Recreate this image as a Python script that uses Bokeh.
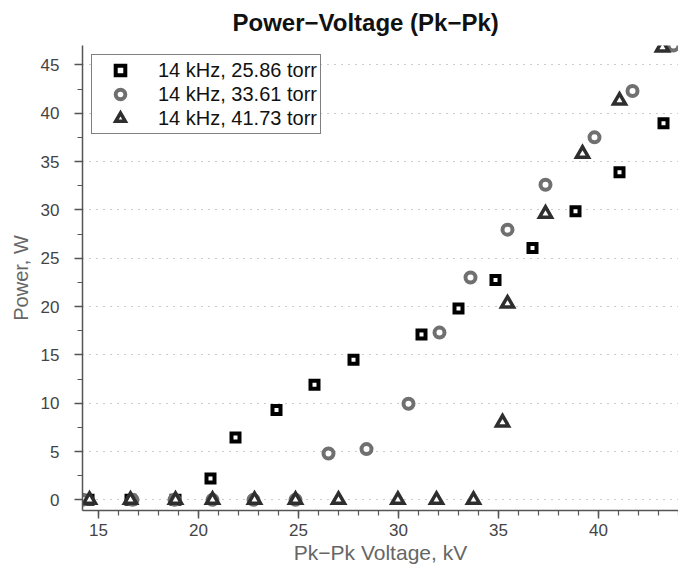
from bokeh.plotting import figure
from bokeh.models import SingleIntervalTicker, Range1d, Legend, LegendItem
from bokeh.embed import file_html
from bokeh.resources import INLINE

# Data (Pk-Pk voltage in kV, power in W)
sq_x = [14.5, 16.6, 18.85, 20.6, 21.85, 23.9, 25.8, 27.75, 31.15, 33.0, 34.85, 36.7, 38.85, 41.05, 43.25]
sq_y = [0.0, 0.0, 0.0, 2.2, 6.45, 9.3, 11.9, 14.5, 17.1, 19.8, 22.75, 26.05, 29.85, 33.9, 38.95]

ci_x = [14.2, 16.7, 18.8, 20.7, 22.75, 24.85, 26.5, 28.4, 30.5, 32.05, 33.6, 35.45, 37.35, 39.8, 41.7, 43.75]
ci_y = [0.0, 0.0, 0.0, 0.0, 0.0, 0.0, 4.8, 5.25, 9.95, 17.3, 23.0, 27.95, 32.6, 37.5, 42.3, 47.0]

tr_x = [14.55, 16.6, 18.85, 20.7, 22.8, 24.85, 27.0, 29.97, 31.9, 33.75, 35.2, 35.45, 37.35, 39.2, 41.05, 43.2]
tr_y = [0.0, 0.0, 0.0, 0.0, 0.0, 0.0, 0.0, 0.0, 0.0, 0.0, 8.0, 20.3, 29.6, 35.8, 41.3, 46.8]

labels = ["14 kHz, 25.86 torr", "14 kHz, 33.61 torr", "14 kHz, 41.73 torr"]

FONT = "Liberation Sans"

p = figure(width=678, height=573, output_backend="svg", toolbar_location=None,
           x_range=Range1d(14.2, 44.0), y_range=Range1d(-1.1, 47.0),
           title="Power\u2212Voltage (Pk\u2212Pk)")
p.min_border_left = 82
p.min_border_right = 0
p.min_border_top = 45
p.min_border_bottom = 63
p.outline_line_color = None
p.background_fill_color = "white"

p.title.align = "left"
p.title.offset = 150
p.title.standoff = 16
p.title.vertical_align = "top"
p.title.text_font = FONT
p.title.text_font_size = "24px"
p.title.text_font_style = "bold"
p.title.text_color = "#111111"

p.xaxis.ticker = SingleIntervalTicker(interval=5, num_minor_ticks=5)
p.yaxis.ticker = SingleIntervalTicker(interval=5, num_minor_ticks=2)
for ax in (p.xaxis, p.yaxis):
    ax.axis_line_color = "#555555"
    ax.axis_line_width = 1.5
    ax.major_tick_line_color = "#555555"
    ax.minor_tick_line_color = "#555555"
    ax.major_tick_line_width = 1.5
    ax.minor_tick_line_width = 1.2
    ax.major_tick_in = 0
    ax.major_tick_out = 8
    ax.minor_tick_in = 0
    ax.minor_tick_out = 5
    ax.major_label_text_font = FONT
    ax.major_label_text_font_size = "17px"
    ax.major_label_text_color = "#444444"
    ax.axis_label_text_font = FONT
    ax.axis_label_text_font_style = "normal"
    ax.axis_label_text_color = "#666666"
p.xaxis.axis_label = "Pk\u2212Pk Voltage, kV"
p.yaxis.axis_label = "Power, W"
p.xaxis.axis_label_text_font_size = "21px"
p.yaxis.axis_label_text_font_size = "20px"
p.xaxis.axis_label_standoff = 2
p.yaxis.axis_label_standoff = 6
p.yaxis.major_label_standoff = 15

p.xgrid.grid_line_color = None
p.ygrid.grid_line_color = "#999999"
p.ygrid.grid_line_dash = "1 6"
p.ygrid.grid_line_width = 1.2

r1 = p.scatter(sq_x, sq_y, marker="square", size=8, line_width=4,
               line_color="black", fill_color="white", line_join="miter")
r2 = p.scatter(ci_x, ci_y, marker="circle", size=10, line_width=4,
               line_color="#707070", fill_color="white")
r3 = p.scatter(tr_x, tr_y, marker="triangle", size=12, line_width=3.5,
               line_color="#2e2e2e", fill_color="white", line_join="miter")

legend = Legend(items=[LegendItem(label=labels[0], renderers=[r1]),
                       LegendItem(label=labels[1], renderers=[r2]),
                       LegendItem(label=labels[2], renderers=[r3])],
                location="top_left")
legend.margin = 9
legend.padding = 3
legend.spacing = 0
legend.label_height = 24
legend.glyph_height = 24
legend.glyph_width = 50
legend.label_standoff = 13
legend.label_text_font = FONT
legend.label_text_font_size = "20px"
legend.label_text_color = "#111111"
legend.border_line_color = "black"
legend.border_line_width = 1.5
legend.background_fill_alpha = 1.0
p.add_layout(legend)

open("out.html", "w").write(file_html(p, INLINE))
